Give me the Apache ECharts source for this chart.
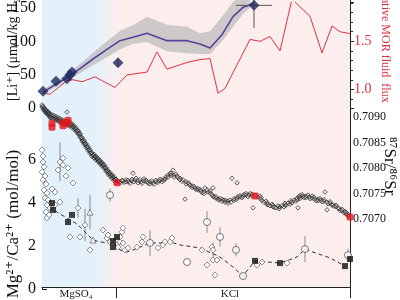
<!DOCTYPE html>
<html><head><meta charset="utf-8">
<script src="https://cdn.jsdelivr.net/npm/echarts@6/dist/echarts.min.js"></script>
<style>html,body{margin:0;padding:0;background:#fff}#c{width:400px;height:300px}</style>
</head><body><div id="c"></div>
<script>
// ---------- DATA (age in Ma) ----------
const regimeLabels = ['MgSO₄', 'KCl'];
const regimeLabelAge = [17, 94];
const regimeBoundaryAge = 37;
const ageMax = 154;

// Li model curve (µmol/kg)
const liModelAge = [0.5, 6.5, 12.5, 19, 25.5, 32.5, 39, 45.5, 52.5, 62.5, 72.5, 79, 84, 90, 95.5, 100.5, 105.5];
const liModel    = [23.5, 35, 45.6, 59, 73.5, 88, 101, 106, 112, 101, 101, 96, 90, 110, 137, 151, 156];
const liBandAge  = [0.5, 6.5, 12.5, 19, 25.5, 32.5, 39, 45.5, 52.5, 62.5, 72.5, 79, 84, 90, 95.5, 100.5, 104];
const liBandHi   = [27, 39, 51, 66, 83, 100, 116, 124, 137, 125, 122, 112, 115, 137, 159, 170, 170];
const liBandLo   = [20, 31, 40, 52, 64, 76, 88, 96, 99, 85, 82, 81, 81, 100, 122, 141, 150];
// Li observations: [age, Li, LiErr, ageErr]
const liObs = [[0.5, 25, 0, 0], [7, 40, 0, 0], [12.5, 44, 0, 0], [14, 50, 0, 0], [15, 54, 0, 0], [38, 68, 6, 0], [106, 154, 34, 9]];

// Relative MOR fluid flux
const fluxAge = [0.5, 4, 12.5, 15.5, 20, 26.5, 36.5, 42.5, 52.5, 57.5, 62.5, 72.5, 79, 84, 88, 91.5, 104, 109, 114, 119, 125, 129, 134, 140, 145, 149, 154];
const flux    = [0.96, 0.95, 1.09, 1.10, 1.08, 1.13, 1.02, 1.15, 1.18, 1.39, 1.21, 1.28, 1.31, 1.32, 0.96, 1.01, 1.52, 1.50, 1.55, 1.40, 1.94, 1.86, 1.76, 1.38, 1.66, 1.60, 1.58];

// 87Sr/86Sr compilation
const srPoints = [
[0,0.70920],[0,0.70924],[0.5,0.70916],[0.5,0.70921],[1,0.70918],[1,0.70914],[1.5,0.70912],[1.5,0.70916],[2,0.70910],[2,0.70914],[2,0.70908],[2.5,0.70911],[2.5,0.70907],[3,0.70908],[3,0.70905],[3,0.70911],[3.5,0.70904],[3.5,0.70908],[4,0.70906],[4,0.70902],[4,0.70899],[4.5,0.70903],[4.5,0.70899],[5,0.70902],[5,0.70898],[5,0.70905],
[6,0.70900],[6,0.70896],[6,0.70903],[6.5,0.70898],[7,0.70898],[7,0.70894],[7,0.70901],[7.5,0.70896],[8,0.70896],[8,0.70892],[8,0.70899],[8.5,0.70894],[9,0.70894],[9,0.70890],[9,0.70897],[9.5,0.70892],[10,0.70892],[10,0.70888],[10,0.70895],[10.5,0.70890],[11,0.70890],[11,0.70886],[11,0.70893],[11.5,0.70889],[12,0.70889],[12,0.70885],[12,0.70892],[12.5,0.70910],[12.5,0.70887],[13,0.70888],[13,0.70884],[13,0.70891],[13.5,0.70886],[14,0.70886],[14,0.70882],[14,0.70889],[14.5,0.70884],[15,0.70884],[15,0.70880],[15,0.70887],[15.5,0.70882],[16,0.70880],[16,0.70876],[16,0.70883],[16.5,0.70878],[17,0.70876],[17,0.70872],[17,0.70879],[17.5,0.70873],[18,0.70871],[18,0.70867],[18,0.70874],[18.5,0.70868],[19,0.70865],[19,0.70861],[19,0.70868],[19.5,0.70860],[20,0.70857],[20,0.70853],[20,0.70860],[20.5,0.70854],[21,0.70851],[21,0.70847],[21,0.70854],[21.5,0.70848],[22,0.70845],[22,0.70841],[22,0.70848],[22.5,0.70842],[23,0.70839],[23,0.70835],[23,0.70842],[23.5,0.70836],[24,0.70833],[24,0.70829],[24,0.70836],[24.5,0.70830],[25,0.70827],[25,0.70823],[25,0.70830],[25.5,0.70825],[26,0.70824],[26,0.70820],[26,0.70827],[26.5,0.70822],[27,0.70820],[27,0.70816],[27,0.70823],[27.5,0.70818],[28,0.70816],[28,0.70812],[28,0.70819],[28.5,0.70814],[29,0.70812],[29,0.70808],[29,0.70815],[29.5,0.70810],[30,0.70808],[30,0.70804],[30,0.70811],[30.5,0.70806],[31,0.70804],[31,0.70800],[31,0.70807],[31.5,0.70801],[32,0.70798],[32,0.70794],[32,0.70801],[32.5,0.70795],[33,0.70792],[33,0.70788],[33,0.70795],[33.5,0.70790],[34,0.70788],[34,0.70784],[34,0.70791],[34.5,0.70786],[35,0.70784],[35,0.70780],[35,0.70787],[35.5,0.70782],[36,0.70780],[36,0.70776],[36,0.70783],[36.5,0.70778],[37,0.70775],[37,0.70771],[37,0.70778],
[38,0.70774],[39,0.70773],[39,0.70770],[40,0.70776],[40.5,0.70775],[41,0.70772],[42,0.70777],[42,0.70773],[43,0.70776],[43.5,0.70773],[44,0.70770],[45,0.70775],[45,0.70778],[45.5,0.70790],[46,0.70773],[46.5,0.70777],[47,0.70780],[48,0.70775],[48,0.70771],[49,0.70777],[49.5,0.70773],[50,0.70770],[51,0.70775],[51,0.70779],[52,0.70776],[52.5,0.70773],[53,0.70770],[54,0.70773],[54,0.70769],[55,0.70775],[55.5,0.70771],[56,0.70768],[57,0.70773],[57,0.70776],[58,0.70772],[58.5,0.70775],[59,0.70778],[60,0.70777],[60,0.70773],[61,0.70776],[61.5,0.70779],[62,0.70783],[63,0.70782],[63,0.70786],[64,0.70789],[64.5,0.70786],[64.5,0.70790],[65.5,0.70796],[66,0.70786],[66,0.70782],[67,0.70788],[67.5,0.70784],[68,0.70781],[69,0.70780],[69,0.70777],[70,0.70774],[70.5,0.70777],[71.5,0.70739],[72,0.70773],[72,0.70769],[73,0.70771],[73.5,0.70769],[74,0.70766],[75,0.70765],[75,0.70762],[76,0.70764],[76.5,0.70761],[77,0.70758],[78,0.70757],[78,0.70760],[79,0.70758],[79.5,0.70755],[80,0.70752],[81,0.70753],[81,0.70750],[81.5,0.70761],[82.5,0.70757],[83,0.70753],[84,0.70751],[84,0.70755],[85,0.70748],[85.5,0.70745],[85.5,0.70761],[86,0.70743],[87,0.70741],[87,0.70744],[88,0.70739],[88.5,0.70737],[89,0.70740],[90,0.70735],[90,0.70739],[91,0.70737],[91.5,0.70733],[92,0.70736],[93,0.70731],[93,0.70735],[94,0.70737],[94.5,0.70733],[95,0.70780],[96,0.70737],[96,0.70740],[97,0.70738],[97.5,0.70741],[97.5,0.70771],[98,0.70744],[99,0.70743],[99,0.70746],[100,0.70742],[100.5,0.70745],[101,0.70748],[102,0.70747],[102,0.70750],[103,0.70744],[103.5,0.70747],[104,0.70750],[105,0.70745],[105,0.70749],[105.5,0.70722],[107,0.70746],[108,0.70743],[109,0.70745],[109.5,0.70739],[109.5,0.70742],[110,0.70736],[111,0.70733],[112,0.70735],[112.5,0.70729],[112.5,0.70732],[113,0.70728],[114,0.70726],[115,0.70729],[115.5,0.70724],[115.5,0.70727],[116,0.70723],[117,0.70722],[118,0.70726],[118.5,0.70724],[118.5,0.70720],[119,0.70723],[120,0.70726],[121,0.70724],[121.5,0.70728],[121.5,0.70731],[122,0.70727],[123,0.70731],[124,0.70729],[124.5,0.70733],[124.5,0.70736],[125,0.70732],[126,0.70737],[127,0.70735],[127.5,0.70741],[127.5,0.70738],[128,0.70722],[128.5,0.70744],[129,0.70743],[129,0.70746],[129,0.70740],[130,0.70748],[130.5,0.70745],[131,0.70742],[132,0.70745],[132,0.70742],[133,0.70747],[133.5,0.70743],[134,0.70740],[135,0.70741],[135,0.70745],[136,0.70743],[136.5,0.70739],[137,0.70736],[138,0.70739],[138,0.70736],[139,0.70740],[139.5,0.70737],[140,0.70734],[141,0.70735],[141,0.70738],[141.5,0.70753],[142.5,0.70733],[142.5,0.70718],[143,0.70730],[144,0.70731],[144,0.70734],[145,0.70727],[145.5,0.70728],[146,0.70725],[147,0.70724],[147,0.70727],[148,0.70722],[148.5,0.70720],[149,0.70717],[150,0.70716],[150,0.70719],[151,0.70712],[151.5,0.70715],[152,0.70710],[152,0.70713],[153,0.70706],[153,0.70709]
];
const srFluidIncl = [[5,0.70888],[5,0.70880],[10.5,0.70889],[10.5,0.70883],[13,0.70894],[13,0.70888],[37.5,0.70771],[106.5,0.70745],[154,0.70704]];

// Mg/Ca (mol/mol)
const mgDiamonds = [
[0,6.44],[0.5,6.16],[0.5,5.88],[1,5.65],[0,5.42],[1.5,5.23],[0.5,5.05],[2,4.86],[1,4.58],[2.5,4.44],[1.5,4.21],[3,4.12],[2.5,3.89],[2,3.56],[2.5,3.29],[3.5,3.43],[4,3.75],[6.5,3.89],[5,4.63],[6.5,4.49],[8,5.51],[9,5.88],[10.5,5.74],[10.5,6.06],[13,5.60],[12,5.23],[15.5,4.91],[9,4.03],[14,2.41],[19,2.41],[18,3.75],[21.5,2.96],[24,1.81],[30.5,2.73],[32.5,2.36],[33,2.50],[34,2.18],[37.5,2.27],[38,1.94],[39,2.18],[40.5,2.13],[41.5,1.81],[43,1.90],[40,2.64],[40.5,2.82],[39,2.41],[47.5,1.94],[50,2.18],[50.5,2.41],[58,1.90],[60.5,2.04],[61.5,2.18],[64,2.18],[65,2.36],[80,1.81],[85,1.94],[85.5,1.81],[85.5,1.34],[87.5,1.34],[86.5,0.65],[82.5,1.11],[107.5,1.11],[110,1.25],[122.5,1.20]
];
const mgCircles = [[34,4.35],[54,2.13],[72.5,1.25],[82.5,3.10],[89,2.41],[97,1.81],[100.5,0.60],[131.5,1.85],[153,1.57]];
const mgTriangles = [[24,3.56],[25.5,2.27]];
const mgSquares = [[5,3.98],[5.5,3.66],[13,3.10],[15,3.43],[35.5,2.22],[35.5,1.94],[37.5,2.41],[106.5,1.30],[119,1.20],[151.5,1.06],[154,1.39]];
const mgTrend = [[4,3.84],[8,3.52],[12.5,3.29],[17.5,3.01],[21.5,2.64],[25.5,2.27],[29,2.18],[34,2.13],[37,2.04],[39,1.81],[42.5,1.71],[45.5,1.81],[49,1.94],[54,2.13],[59,2.13],[64,2.18],[69,2.04],[79,1.90],[89,1.48],[95.5,1.02],[100.5,0.60],[104,1.02],[106.5,1.30],[119,1.20],[127.5,1.48],[131.5,1.85],[135.5,1.71],[144,1.44],[151.5,1.06]];
// [age, value, error]
const mgErr = [[9,5.88,0.9],[18,3.75,0.45],[21.5,2.96,0.75],[24,3.56,0.8],[34,4.35,0.3],[54,2.13,0.6],[82.5,3.10,0.5],[89,2.41,0.45],[97,1.81,0.3],[131.5,1.85,0.6],[85.5,1.81,0.35],[153,1.57,0.3]];

// ---------- CHART ----------
const FONT = "'Liberation Serif','DejaVu Serif','Noto Serif',serif";
const chart = echarts.init(document.getElementById('c'), null, {renderer: 'canvas'});

function near(v, step) { return Math.abs(v / step - Math.round(v / step)) < 1e-3; }
function hiddenX(i) { return {gridIndex: i, type: 'value', min: 0, max: ageMax, show: false}; }
function errRender(color) {
  return function (params, api) {
    const x = api.value(0), y = api.value(1), e = api.value(2), ex = api.value(3) || 0;
    const children = [];
    if (e > 0) {
      const a = api.coord([x, y - e]), b = api.coord([x, y + e]);
      children.push({type: 'line', shape: {x1: a[0], y1: a[1], x2: b[0], y2: b[1]}, style: {stroke: color, lineWidth: 1}});
    }
    if (ex > 0) {
      const a = api.coord([x - ex, y]), b = api.coord([x + ex, y]);
      children.push({type: 'line', shape: {x1: a[0], y1: a[1], x2: b[0], y2: b[1]}, style: {stroke: color, lineWidth: 1}});
    }
    return {type: 'group', children: children};
  };
}

const option = {
  animation: false,
  backgroundColor: '#ffffff',
  grid: [
    {left: 42, right: 50, top: 0, height: 289},
    {left: 42, right: 50, top: 0, height: 108},
    {left: 42, right: 50, top: 108, height: 111},
    {left: 42, right: 50, top: 108, height: 181}
  ],
  xAxis: [
    {
      gridIndex: 0, type: 'value', min: 0, max: ageMax, position: 'bottom',
      axisLine: {show: true, lineStyle: {color: '#222', width: 1}},
      axisTick: {show: true, customValues: [regimeBoundaryAge, ageMax], length: 11, lineStyle: {color: '#222'}},
      axisLabel: {show: true, customValues: regimeLabelAge, margin: 2, fontFamily: FONT, fontSize: 11, color: '#222',
        formatter: function (v) { const i = regimeLabelAge.indexOf(v); return i >= 0 ? regimeLabels[i] : ''; }},
      splitLine: {show: false}
    },
    hiddenX(1), hiddenX(2), hiddenX(3)
  ],
  yAxis: [
    {gridIndex: 0, type: 'value', min: 0, max: 1, position: 'left', axisLine: {show: true, lineStyle: {color: '#222'}}, axisTick: {show: false}, axisLabel: {show: false}, splitLine: {show: false}},
    {gridIndex: 0, type: 'value', min: 0, max: 1, position: 'right', axisLine: {show: true, lineStyle: {color: '#222'}}, axisTick: {show: false}, axisLabel: {show: false}, splitLine: {show: false}},
    {
      gridIndex: 1, type: 'value', position: 'left', min: 0, max: 158.8, interval: 50,
      axisLine: {show: true, lineStyle: {color: '#222'}},
      axisTick: {show: true, inside: true, length: 5, lineStyle: {color: '#222'}},
      minorTick: {show: true, splitNumber: 5, length: 3, lineStyle: {color: '#222'}},
      axisLabel: {fontFamily: FONT, fontSize: 16, color: '#111', margin: 6, showMaxLabel: false,
        formatter: function (v) { return near(v, 50) ? String(Math.round(v)) : ''; }},
      splitLine: {show: false}
    },
    {
      gridIndex: 1, type: 'value', position: 'right', min: 0.806, max: 1.908, minInterval: 0.5, maxInterval: 0.5,
      axisLine: {show: true, lineStyle: {color: '#222'}},
      axisTick: {show: true, inside: false, length: 4, lineStyle: {color: '#222'}},
      minorTick: {show: true, splitNumber: 5, length: 3, lineStyle: {color: '#222'}},
      axisLabel: {fontFamily: FONT, fontSize: 14, color: '#d9323f', margin: 4,
        formatter: function (v) { return near(v, 0.5) ? v.toFixed(1) : ''; }},
      splitLine: {show: false}
    },
    {
      gridIndex: 2, type: 'value', position: 'right', min: 0.7070, max: 0.70918, interval: 0.0005,
      axisLine: {show: true, lineStyle: {color: '#222'}},
      axisTick: {show: true, inside: false, length: 4, lineStyle: {color: '#222'}},
      minorTick: {show: true, splitNumber: 5, length: 3, lineStyle: {color: '#222'}},
      axisLabel: {fontFamily: FONT, fontSize: 12, color: '#111', margin: 3,
        formatter: function (v) { return near(v, 0.0005) ? v.toFixed(4) : ''; }},
      splitLine: {show: false}
    },
    {
      gridIndex: 3, type: 'value', position: 'left', min: 0, max: 8.38, interval: 2,
      axisLine: {show: true, lineStyle: {color: '#222'}},
      axisTick: {show: true, inside: true, length: 5, lineStyle: {color: '#222'}},
      minorTick: {show: true, splitNumber: 4, length: 3, lineStyle: {color: '#222'}},
      axisLabel: {fontFamily: FONT, fontSize: 16, color: '#111', margin: 6,
        formatter: function (v) { return (near(v, 2) && v < 7) ? String(Math.round(v)) : ''; }},
      splitLine: {show: false}
    }
  ],
  graphic: [
    {type: 'text', x: 13, y: 42, rotation: Math.PI / 2,
      style: {text: '[Li⁺] (μmol/kg H₂O)', font: '14px ' + FONT, fill: '#111', align: 'center', verticalAlign: 'middle', textAlign: 'center', textVerticalAlign: 'middle'}},
    {type: 'text', x: 14, y: 224, rotation: Math.PI / 2,
      style: {text: 'Mg²⁺/Ca²⁺ (mol/mol)', font: '17px ' + FONT, fill: '#111', align: 'center', verticalAlign: 'middle', textAlign: 'center', textVerticalAlign: 'middle'}},
    {type: 'text', x: 385, y: 42, rotation: -Math.PI / 2,
      style: {text: 'Relative MOR fluid  flux', font: '12px ' + FONT, fill: '#d9323f', align: 'center', verticalAlign: 'middle', textAlign: 'center', textVerticalAlign: 'middle'}},
    {type: 'text', x: 389, y: 166, rotation: -Math.PI / 2,
      style: {text: '⁸⁷Sr/⁸⁶Sr', font: '17px ' + FONT, fill: '#111', align: 'center', verticalAlign: 'middle', textAlign: 'center', textVerticalAlign: 'middle'}}
  ],
  series: [
    // background regimes
    {
      type: 'line', xAxisIndex: 0, yAxisIndex: 0, data: [[0, -5]], symbol: 'none', silent: true, z: 0,
      lineStyle: {opacity: 0},
      markArea: {
        silent: true,
        itemStyle: {
          color: new echarts.graphic.LinearGradient(0, 0, 1, 0, [
            {offset: 0, color: '#e2f1fb'}, {offset: 0.17, color: '#e4f1fa'},
            {offset: 0.255, color: '#fdeeee'}, {offset: 1, color: '#fdeeee'}
          ])
        },
        data: [[{xAxis: 0}, {xAxis: ageMax}]]
      }
    },
    // Li model band
    {
      type: 'custom', xAxisIndex: 1, yAxisIndex: 2, z: 2,
      data: liBandAge.map(function (a, i) { return [a, liBandLo[i], liBandHi[i]]; }),
      encode: {x: 0, y: [1, 2]},
      renderItem: function (params, api) {
        if (params.dataIndex !== 0) return null;
        const pts = [];
        for (let i = 0; i < liBandAge.length; i++) pts.push(api.coord([liBandAge[i], liBandHi[i]]));
        for (let i = liBandAge.length - 1; i >= 0; i--) pts.push(api.coord([liBandAge[i], liBandLo[i]]));
        return {type: 'polygon', shape: {points: pts}, style: {fill: 'rgba(185,185,185,0.7)'}};
      }
    },
    // flux line
    {
      type: 'line', xAxisIndex: 1, yAxisIndex: 3, z: 3, symbol: 'none', clip: true,
      data: fluxAge.map(function (a, i) { return [a, flux[i]]; }),
      lineStyle: {color: '#e0303e', width: 1}
    },
    // Li model line
    {
      type: 'line', xAxisIndex: 1, yAxisIndex: 2, z: 4, symbol: 'none',
      data: liModelAge.map(function (a, i) { return [a, liModel[i]]; }),
      lineStyle: {color: '#5b3f9e', width: 1.6}
    },
    // Li error bars
    {
      type: 'custom', xAxisIndex: 1, yAxisIndex: 2, z: 5,
      data: liObs, encode: {x: 0, y: 1}, renderItem: errRender('#555')
    },
    // Li observations
    {
      type: 'scatter', xAxisIndex: 1, yAxisIndex: 2, z: 6, symbol: 'diamond', symbolSize: 11, clip: false,
      data: liObs.map(function (d) { return [d[0], d[1]]; }),
      itemStyle: {color: '#1e2b5e'}
    },
    // Sr compilation
    {
      type: 'scatter', xAxisIndex: 2, yAxisIndex: 4, z: 5, symbol: 'diamond', symbolSize: 4.5, clip: false,
      data: srPoints,
      itemStyle: {color: 'rgba(255,255,255,0.15)', borderColor: '#222', borderWidth: 0.9}
    },
    {
      type: 'scatter', xAxisIndex: 2, yAxisIndex: 4, z: 6, symbol: 'roundRect', symbolSize: 7, clip: false,
      data: srFluidIncl,
      itemStyle: {color: '#e3161f'}
    },
    // Mg/Ca error bars
    {
      type: 'custom', xAxisIndex: 3, yAxisIndex: 5, z: 4,
      data: mgErr, encode: {x: 0, y: 1}, renderItem: errRender('#8a8a8a')
    },
    // Mg/Ca trend
    {
      type: 'line', xAxisIndex: 3, yAxisIndex: 5, z: 5, symbol: 'none',
      data: mgTrend,
      lineStyle: {color: '#333', width: 1, type: [4, 3]}
    },
    {
      type: 'scatter', xAxisIndex: 3, yAxisIndex: 5, z: 6, symbol: 'diamond', symbolSize: 6, clip: false,
      data: mgDiamonds,
      itemStyle: {color: '#fff', borderColor: '#555', borderWidth: 0.8}
    },
    {
      type: 'scatter', xAxisIndex: 3, yAxisIndex: 5, z: 6, symbol: 'circle', symbolSize: 7, clip: false,
      data: mgCircles,
      itemStyle: {color: '#fff', borderColor: '#444', borderWidth: 0.9}
    },
    {
      type: 'scatter', xAxisIndex: 3, yAxisIndex: 5, z: 6, symbol: 'triangle', symbolSize: 6, clip: false,
      data: mgTriangles,
      itemStyle: {color: '#fff', borderColor: '#555', borderWidth: 0.8}
    },
    {
      type: 'scatter', xAxisIndex: 3, yAxisIndex: 5, z: 7, symbol: 'rect', symbolSize: 6, clip: false,
      data: mgSquares,
      itemStyle: {color: '#111'}
    }
  ]
};
chart.setOption(option);
</script></body></html>
